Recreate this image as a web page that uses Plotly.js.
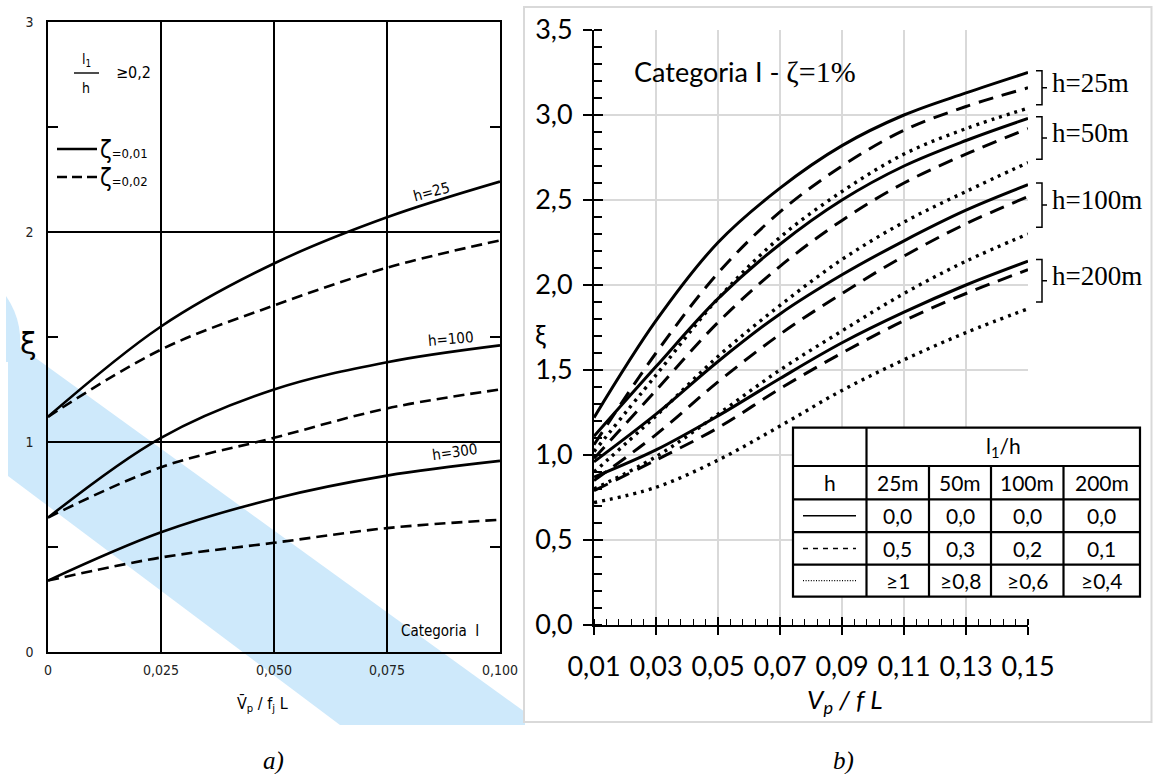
<!DOCTYPE html>
<html>
<head>
<meta charset="utf-8">
<script src="https://cdn.plot.ly/plotly-3.0.1.min.js"></script>
<style>html,body{margin:0;padding:0;background:#fff;}#chart{width:1153px;height:774px;}</style>
</head>
<body>
<div id="chart"></div>
<script>
// ---------- Panel a) data (old chart) ----------
const aX = [0, 0.025, 0.05, 0.075, 0.1];
const aH25Solid  = [1.12, 1.55, 1.85, 2.07, 2.24];
const aH25Dash   = [1.12, 1.44, 1.65, 1.83, 1.96];
const aH100Solid = [0.64, 1.02, 1.25, 1.38, 1.46];
const aH100Dash  = [0.64, 0.88, 1.02, 1.16, 1.25];
const aH300Solid = [0.34, 0.57, 0.73, 0.84, 0.91];
const aH300Dash  = [0.34, 0.45, 0.52, 0.59, 0.63];
const aTickX = [0, 0.025, 0.05, 0.075, 0.1];
const aTickXText = ['0', '0,025', '0,050', '0,075', '0,100'];
const aTickY = [0, 1, 2, 3];
const aTickYText = ['0', '1', '2', '3'];
const aMinorY = [0.5, 1.5, 2.5];

// ---------- Panel b) data (new chart) ----------
const bX = [0.01, 0.03, 0.05, 0.07, 0.09, 0.11, 0.13, 0.15];
const bH25Solid  = [1.22, 1.79, 2.25, 2.57, 2.82, 3.00, 3.13, 3.25];
const bH25Dash   = [1.06, 1.60, 2.07, 2.43, 2.70, 2.91, 3.05, 3.16];
const bH25Dot    = [1.02, 1.47, 1.92, 2.28, 2.55, 2.77, 2.92, 3.04];
const bH50Solid  = [1.11, 1.52, 1.92, 2.24, 2.50, 2.70, 2.85, 2.98];
const bH50Dash   = [0.98, 1.38, 1.78, 2.11, 2.38, 2.60, 2.77, 2.92];
const bH50Dot    = [0.90, 1.23, 1.58, 1.88, 2.15, 2.37, 2.55, 2.72];
const bH100Solid = [0.96, 1.24, 1.55, 1.83, 2.06, 2.26, 2.44, 2.59];
const bH100Dash  = [0.85, 1.12, 1.43, 1.71, 1.95, 2.17, 2.36, 2.52];
const bH100Dot   = [0.80, 0.99, 1.24, 1.50, 1.73, 1.95, 2.14, 2.30];
const bH200Solid = [0.87, 1.03, 1.23, 1.45, 1.66, 1.84, 2.00, 2.14];
const bH200Dash  = [0.79, 0.97, 1.16, 1.39, 1.60, 1.79, 1.95, 2.09];
const bH200Dot   = [0.72, 0.81, 0.97, 1.17, 1.38, 1.56, 1.72, 1.86];
const bTickX = [0.01, 0.03, 0.05, 0.07, 0.09, 0.11, 0.13, 0.15];
const bTickXText = ['0,01', '0,03', '0,05', '0,07', '0,09', '0,11', '0,13', '0,15'];
const bTickY = [0, 0.5, 1, 1.5, 2, 2.5, 3, 3.5];
const bTickYText = ['0,0', '0,5', '1,0', '1,5', '2,0', '2,5', '3,0', '3,5'];
const bracketLabels = ['h=25m', 'h=50m', 'h=100m', 'h=200m'];
const bracketTop    = [3.26, 2.99, 2.60, 2.15];
const bracketBottom = [3.06, 2.74, 2.34, 1.90];
const tableHeights = ['25m', '50m', '100m', '200m'];
const tableSolid = ['0,0', '0,0', '0,0', '0,0'];
const tableDash  = ['0,5', '0,3', '0,2', '0,1'];
const tableDot   = ['≥1', '≥0,8', '≥0,6', '≥0,4'];

// ---------- helpers ----------
const W = 1153, H = 774;
const px = x => x / W;
const py = y => 1 - y / H;
const OLD = "'Liberation Sans Narrow', 'DejaVu Sans Condensed', 'Liberation Sans', sans-serif";
const SANS = "Lato, 'Open Sans', sans-serif";
const SERIF = "'Liberation Serif', 'DejaVu Serif', serif";

function line(x, y, xa, ya, width, dash) {
  return {x: x, y: y, xaxis: xa, yaxis: ya, type: 'scatter', mode: 'lines',
    line: {color: '#000', width: width, dash: dash, shape: 'spline', smoothing: 1},
    hoverinfo: 'skip'};
}
const DASH_A = '11px,6px';
const DASH_B = '15px,9px';
const DOT_B = '3px,5px';

const traces = [
  line(aX, aH25Solid, 'x', 'y', 2.6, 'solid'),
  line(aX, aH25Dash, 'x', 'y', 2.6, DASH_A),
  line(aX, aH100Solid, 'x', 'y', 2.6, 'solid'),
  line(aX, aH100Dash, 'x', 'y', 2.6, DASH_A),
  line(aX, aH300Solid, 'x', 'y', 2.6, 'solid'),
  line(aX, aH300Dash, 'x', 'y', 2.6, DASH_A),

  line(bX, bH25Solid, 'x2', 'y2', 3, 'solid'),
  line(bX, bH25Dash, 'x2', 'y2', 3, DASH_B),
  line(bX, bH25Dot, 'x2', 'y2', 3.4, DOT_B),
  line(bX, bH50Solid, 'x2', 'y2', 3, 'solid'),
  line(bX, bH50Dash, 'x2', 'y2', 3, DASH_B),
  line(bX, bH50Dot, 'x2', 'y2', 3.4, DOT_B),
  line(bX, bH100Solid, 'x2', 'y2', 3, 'solid'),
  line(bX, bH100Dash, 'x2', 'y2', 3, DASH_B),
  line(bX, bH100Dot, 'x2', 'y2', 3.4, DOT_B),
  line(bX, bH200Solid, 'x2', 'y2', 3, 'solid'),
  line(bX, bH200Dash, 'x2', 'y2', 3, DASH_B),
  line(bX, bH200Dot, 'x2', 'y2', 3.4, DOT_B),
  // empty traces to register the overlay tick axes
  {x: [], y: [], xaxis: 'x3', yaxis: 'y2', type: 'scatter', mode: 'lines', hoverinfo: 'skip'},
  {x: [], y: [], xaxis: 'x2', yaxis: 'y3', type: 'scatter', mode: 'lines', hoverinfo: 'skip'}
];

// ---------- shapes ----------
const BLUE = 'rgb(206,233,251)';
function pth(points) {
  return 'M ' + points.map(p => px(p[0]).toFixed(5) + ',' + py(p[1]).toFixed(5)).join(' L ') + ' Z';
}
const shapes = [];
// watermark band (panel a)
shapes.push({type: 'path', xref: 'paper', yref: 'paper', layer: 'below', fillcolor: BLUE, line: {width: 0},
  path: pth([[8, 338], [525, 712], [525, 725], [340, 725], [8, 476]])});
shapes.push({type: 'path', xref: 'paper', yref: 'paper', layer: 'below', fillcolor: BLUE, line: {width: 0},
  path: 'M ' + px(6) + ',' + py(296) + ' Q ' + px(26) + ',' + py(325) + ' ' + px(18) + ',' + py(362) +
        ' L ' + px(6) + ',' + py(362) + ' Z'});
// panel b frame
shapes.push({type: 'rect', xref: 'paper', yref: 'paper', layer: 'below',
  x0: px(524), x1: px(1151.5), y0: py(722), y1: py(7), line: {color: '#d9d9d9', width: 2}});
// panel a legend: fraction bar and line samples
function seg(x0, y0, x1, y1, w, dash) {
  return {type: 'line', xref: 'paper', yref: 'paper', x0: px(x0), y0: py(y0), x1: px(x1), y1: py(y1),
    line: {color: '#000', width: w, dash: dash || 'solid'}, layer: 'above'};
}
shapes.push(seg(74, 73, 99, 73, 1.4));
shapes.push(seg(57, 149, 97, 149, 2.6));
shapes.push(seg(57, 177, 97, 177, 2.6, '10px,5px'));
// brackets (panel b)
for (let i = 0; i < bracketLabels.length; i++) {
  const mid = (bracketTop[i] + bracketBottom[i]) / 2;
  shapes.push({type: 'path', xref: 'paper', yref: 'y2', layer: 'above', line: {color: '#000', width: 1.5},
    path: 'M ' + px(1036) + ',' + bracketTop[i] + ' L ' + px(1042) + ',' + bracketTop[i] +
          ' L ' + px(1042) + ',' + bracketBottom[i] + ' L ' + px(1036) + ',' + bracketBottom[i] +
          ' M ' + px(1042) + ',' + mid + ' L ' + px(1047) + ',' + mid});
}
// table
const tX = [793, 866.5, 929, 991, 1063.5, 1140];
const tY = [427.7, 466, 499.3, 532.2, 564.7, 596.7];
shapes.push({type: 'rect', xref: 'paper', yref: 'paper', layer: 'above', fillcolor: '#fff',
  x0: px(tX[0]), x1: px(tX[5]), y0: py(tY[5]), y1: py(tY[0]), line: {color: '#000', width: 2.2}});
for (let r = 1; r < 5; r++) shapes.push(seg(tX[0], tY[r], tX[5], tY[r], 2.2));
shapes.push(seg(tX[1], tY[0], tX[1], tY[5], 2.2));
for (let c = 2; c < 5; c++) shapes.push(seg(tX[c], tY[1], tX[c], tY[5], 2.2));
const rowMid = r => (tY[r] + tY[r + 1]) / 2;
const colMid = c => (tX[c] + tX[c + 1]) / 2;
shapes.push(seg(803, rowMid(2), 856, rowMid(2), 1.4));
shapes.push(seg(803, rowMid(3), 856, rowMid(3), 1.4, '5px,5px'));
shapes.push(seg(803, rowMid(4), 856, rowMid(4), 1.2, '1px,1.6px'));

// ---------- annotations ----------
function ann(text, x, y, font, extra) {
  return Object.assign({text: text, x: px(x), y: py(y), xref: 'paper', yref: 'paper', showarrow: false,
    xanchor: 'center', yanchor: 'middle', font: Object.assign({color: '#000'}, font)}, extra || {});
}
const annotations = [
  // panel a
  ann('l<sub>1</sub>', 86, 60, {family: OLD, size: 14}),
  ann('h', 86, 88, {family: OLD, size: 14}),
  ann('≥0,2', 133, 73, {family: OLD, size: 16}),
  ann('ζ<span style="font-size:13px">=0,01</span>', 98, 150, {family: OLD, size: 24}, {xanchor: 'left'}),
  ann('ζ<span style="font-size:13px">=0,02</span>', 98, 178, {family: OLD, size: 24}, {xanchor: 'left'}),
  ann('h=25', 431, 192, {family: OLD, size: 15}, {textangle: -15}),
  ann('h=100', 451, 339, {family: OLD, size: 15}, {textangle: -5}),
  ann('h=300', 455, 452, {family: OLD, size: 15}, {textangle: -8}),
  ann('Categoria  I', 440, 631, {family: OLD, size: 15}),
  ann('ξ', 28, 343, {family: "'DejaVu Sans', sans-serif", size: 30}),
  ann('V̄<sub>p</sub> / f<sub>j</sub> L', 262, 704, {family: OLD, size: 16}),
  ann('<i>a)</i>', 273, 761, {family: SERIF, size: 25}),
  // panel b
  ann('Categoria I - <span style="font-family:\'Liberation Serif\', serif;font-size:30px">ζ=1%</span>', 632, 72,
      {family: SANS, size: 27}, {xanchor: 'left'}),
  ann('ξ', 540, 334, {family: SANS, size: 27}),
  ann('<i>V<sub>p</sub> / f L</i>', 845, 700, {family: SANS, size: 26}),
  ann('<i>b)</i>', 843, 761, {family: SERIF, size: 25}),
  ann('l<sub>1</sub>/h', (tX[1] + tX[5]) / 2, rowMid(0), {family: SANS, size: 21}),
  ann('h', colMid(0), rowMid(1), {family: SANS, size: 21})
];
for (let i = 0; i < bracketLabels.length; i++) {
  annotations.push({text: bracketLabels[i], x: px(1050), y: (bracketTop[i] + bracketBottom[i]) / 2 + 0.03,
    xref: 'paper', yref: 'y2', showarrow: false, xanchor: 'left', yanchor: 'middle',
    font: {family: SERIF, size: 27, color: '#000'}});
}
for (let c = 0; c < 4; c++) {
  annotations.push(ann(tableHeights[c], colMid(c + 1), rowMid(1), {family: SANS, size: 21}));
  annotations.push(ann(tableSolid[c], colMid(c + 1), rowMid(2), {family: SANS, size: 21}));
  annotations.push(ann(tableDash[c], colMid(c + 1), rowMid(3), {family: SANS, size: 21}));
  annotations.push(ann(tableDot[c], colMid(c + 1), rowMid(4), {family: SANS, size: 21}));
}

// ---------- layout ----------
// plot areas sized so that grid lines fall on whole pixels uniformly
const aDomX = [px(48), px(500)];
const aDomY = [py(652), py(22)];
const bDomX = [px(594), px(1028)];
const bDomY = [py(625), py(30)];

const layout = {
  width: W, height: H,
  margin: {l: 0, r: 0, t: 0, b: 0},
  paper_bgcolor: '#fff', plot_bgcolor: 'rgba(0,0,0,0)',
  showlegend: false,
  xaxis: {domain: aDomX, range: [0, 0.1], anchor: 'y', tickmode: 'array', tickvals: aTickX, ticktext: aTickXText,
    ticks: '', showgrid: true, gridcolor: '#000', gridwidth: 1.4, zeroline: false,
    showline: true, linecolor: '#000', linewidth: 1.8, mirror: true,
    tickfont: {family: OLD, size: 14, color: '#222'}, ticklabelstandoff: 4, fixedrange: true},
  yaxis: {domain: aDomY, range: [0, 3], anchor: 'x', tickmode: 'array', tickvals: aTickY, ticktext: aTickYText,
    ticks: '', showgrid: true, gridcolor: '#000', gridwidth: 1.4, zeroline: false,
    showline: true, linecolor: '#000', linewidth: 1.8, mirror: 'ticks',
    minor: {tickmode: 'array', tickvals: aMinorY, ticks: 'inside', ticklen: 10, tickcolor: '#000', tickwidth: 1.3, showgrid: false},
    tickfont: {family: OLD, size: 14, color: '#222'}, ticklabelstandoff: 10, fixedrange: true},

  xaxis2: {domain: bDomX, range: [0.01, 0.15], anchor: 'y2', tickmode: 'array', tickvals: bTickX, ticktext: bTickXText,
    ticks: 'outside', ticklen: 8, tickwidth: 2, tickcolor: '#000',
    showgrid: true, gridcolor: '#d9d9d9', gridwidth: 1.5, zeroline: false,
    showline: true, linecolor: '#000', linewidth: 2,
    minor: {tickmode: 'linear', tick0: 0.01, dtick: 0.004, ticks: 'inside', ticklen: 6, tickcolor: '#000', tickwidth: 1.3, showgrid: false},
    tickfont: {family: SANS, size: 27, color: '#000'}, ticklabelstandoff: 9, fixedrange: true},
  yaxis2: {domain: bDomY, range: [0, 3.5], anchor: 'x2', tickmode: 'array', tickvals: bTickY, ticktext: bTickYText,
    ticks: 'outside', ticklen: 9, tickwidth: 2, tickcolor: '#000',
    showgrid: true, gridcolor: '#d9d9d9', gridwidth: 1.5, zeroline: false,
    showline: true, linecolor: '#000', linewidth: 2,
    minor: {tickmode: 'linear', tick0: 0, dtick: 0.1, ticks: 'inside', ticklen: 8, tickcolor: '#000', tickwidth: 1.3, showgrid: false},
    tickfont: {family: SANS, size: 27, color: '#000'}, ticklabelstandoff: 5, fixedrange: true},
  xaxis3: {domain: bDomX, range: [0.01, 0.15], anchor: 'y2', overlaying: 'x2', tickmode: 'array', tickvals: bTickX,
    ticks: 'inside', ticklen: 8, tickwidth: 2, tickcolor: '#000', showticklabels: false,
    showgrid: false, zeroline: false, showline: false, fixedrange: true},
  yaxis3: {domain: bDomY, range: [0, 3.5], anchor: 'x2', overlaying: 'y2', side: 'left', tickmode: 'array', tickvals: bTickY,
    ticks: 'inside', ticklen: 9, tickwidth: 2, tickcolor: '#000', showticklabels: false,
    showgrid: false, zeroline: false, showline: false, fixedrange: true},
  shapes: shapes,
  annotations: annotations
};

Plotly.newPlot('chart', traces, layout, {displayModeBar: false, staticPlot: true});
</script>
</body>
</html>
